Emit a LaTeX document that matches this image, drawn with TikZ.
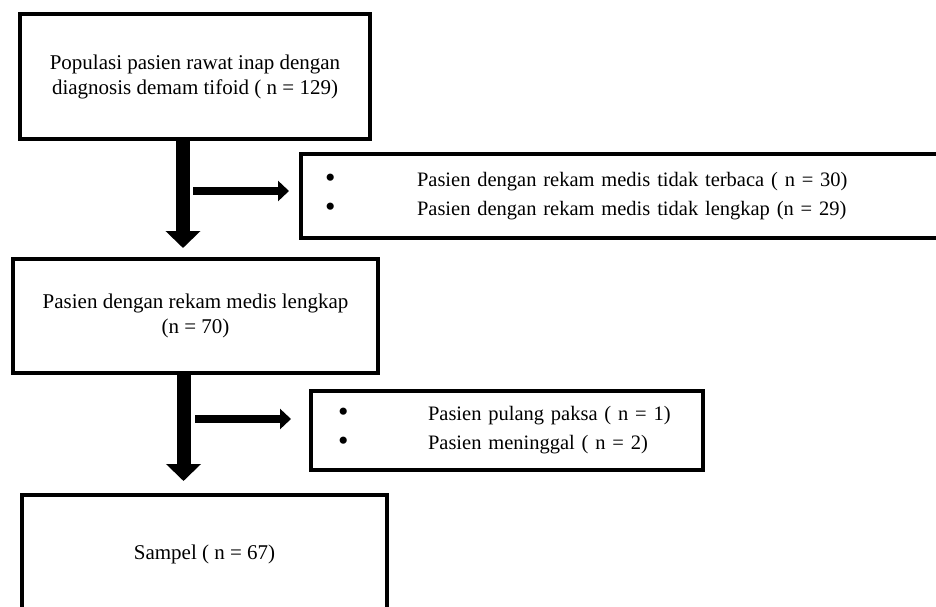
\documentclass[tikz,border=0pt]{standalone}
\usepackage{fontspec}
\setmainfont{Liberation Serif}
\usetikzlibrary{positioning,arrows.meta}

\begin{document}
\begin{tikzpicture}[x=1pt, y=1pt, node distance=239pt and 5pt, on grid,
box/.style={draw, line width=4pt, align=center,
font=\fontsize{21}{25}\selectfont},
listbox/.style={draw, line width=4pt, align=left,
font=\fontsize{20.5}{29}\selectfont},
mainarrow/.style={line width=14pt, -{Triangle[width=34pt,length=17pt]}},
sidearrow/.style={line width=8pt, -{Triangle[width=20pt,length=11pt]}}]
\useasboundingbox (0,0) rectangle (936,-607);
\node[box, minimum width=350pt, minimum height=125pt] (pop) at (195,-76.5)
{Populasi pasien rawat inap dengan\\diagnosis demam tifoid ( n = 129)};
\node[listbox, inner xsep=24pt, text width=640pt, minimum height=84pt] (exc1)
[below right=119.5pt and 450pt of pop]
{\mbox{\makebox[92pt][l]{\raisebox{-1pt}{\scalebox{1.45}{\textbullet}}}Pasien dengan rekam medis tidak terbaca ( n = 30)}\\
\mbox{\makebox[92pt][l]{\raisebox{-1pt}{\scalebox{1.45}{\textbullet}}}Pasien dengan rekam medis tidak lengkap (n = 29)}};
\node[box, minimum width=365pt, minimum height=114pt] (lengkap)
[below right=239.5pt and 0.5pt of pop]
{Pasien dengan rekam medis lengkap\\(n = 70)};
\node[listbox, inner xsep=27pt, text width=338pt, minimum height=79pt] (exc2)
[below right=114.5pt and 311.5pt of lengkap]
{\mbox{\makebox[90pt][l]{\raisebox{-1pt}{\scalebox{1.45}{\textbullet}}}Pasien pulang paksa ( n = 1)}\\
\mbox{\makebox[90pt][l]{\raisebox{-1pt}{\scalebox{1.45}{\textbullet}}}Pasien meninggal ( n = 2)}};
\node[box, minimum width=365pt, minimum height=118pt] (sampel)
[below right=238pt and 9pt of lengkap] {Sampel ( n = 67)};
\coordinate (s1) at ([xshift=-2pt,yshift=-50pt]pop.south);
\coordinate (s2) at ([xshift=-0.5pt,yshift=-44pt]lengkap.south);
\draw[mainarrow, shorten >=9pt] ([xshift=-12pt]pop.south) -- ([xshift=-12.5pt]lengkap.north);
\draw[sidearrow, shorten >=10pt] (s1) -- (s1 -| exc1.west);
\draw[mainarrow, shorten >=12pt] ([xshift=-12pt]lengkap.south) -- ([xshift=-21pt]sampel.north);
\draw[sidearrow, shorten >=18pt] (s2) -- (s2 -| exc2.west);
\end{tikzpicture}
\end{document}
